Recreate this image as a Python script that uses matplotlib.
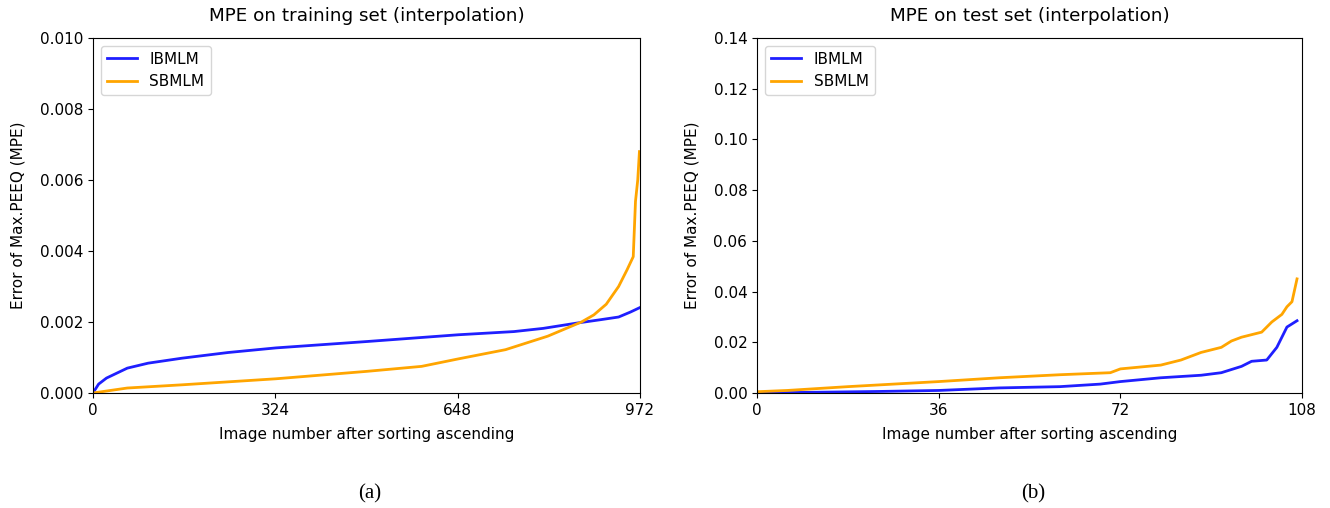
import matplotlib
matplotlib.use('Agg')
import matplotlib.pyplot as plt

# training set (interpolation)
train_x = [0, 10, 24, 61, 98, 158, 240, 325, 487, 649, 748, 800, 860, 900, 934, 955, 971]
train_ibmlm = [0.0, 0.00025, 0.00042, 0.0007, 0.00084, 0.00098, 0.00114, 0.00127,
               0.00145, 0.00164, 0.00173, 0.00182, 0.00197, 0.00206, 0.00214, 0.00228, 0.0024]
train_sx = [0, 61, 158, 325, 487, 584, 649, 733, 808, 868, 890, 912, 934, 949, 960, 964, 968, 971]
train_sbmlm = [0.0, 0.00014, 0.00023, 0.0004, 0.00061, 0.00075, 0.00096, 0.00122,
               0.0016, 0.002, 0.0022, 0.0025, 0.003, 0.00347, 0.00384, 0.0054, 0.006, 0.0068]

# test set (interpolation)
test_ix = [0, 12, 24, 36, 48, 60, 68, 72, 80, 88, 92, 96, 98, 101, 103, 105, 107]
test_ibmlm = [0.0, 0.0003, 0.0006, 0.001, 0.002, 0.0025, 0.0035, 0.0045, 0.006,
              0.007, 0.008, 0.0105, 0.0125, 0.013, 0.018, 0.026, 0.0285]
test_sx = [0, 6, 18, 36, 48, 60, 70, 72, 80, 84, 88, 92, 94, 96, 100, 102, 104, 105, 106, 107]
test_sbmlm = [0.0005, 0.001, 0.0025, 0.0045, 0.006, 0.0072, 0.008, 0.0095, 0.011,
              0.013, 0.016, 0.018, 0.0205, 0.022, 0.024, 0.028, 0.031, 0.034, 0.036, 0.045]

plt.rcParams['font.family'] = 'DejaVu Sans'
plt.rcParams['font.size'] = 11

fig = plt.figure(figsize=(13.3, 5.08), dpi=100)
ax1 = fig.add_axes([0.0699, 0.2264, 0.4113, 0.6988])
ax2 = fig.add_axes([0.5692, 0.2264, 0.4098, 0.6988])

ax1.plot(train_x, train_ibmlm, color='#1f1fff', lw=2, label='IBMLM')
ax1.plot(train_sx, train_sbmlm, color='orange', lw=2, label='SBMLM')
ax1.set_xlim(0, 972)
ax1.set_ylim(0, 0.010)
ax1.set_xticks([0, 324, 648, 972])
ax1.set_yticks([0, 0.002, 0.004, 0.006, 0.008, 0.010])
ax1.set_yticklabels(['0.000', '0.002', '0.004', '0.006', '0.008', '0.010'])
ax1.set_title('MPE on training set (interpolation)', pad=12)
ax1.set_xlabel('Image number after sorting ascending', labelpad=7)
ax1.set_ylabel('Error of Max.PEEQ (MPE)', labelpad=10)
ax1.legend(loc='upper left')

ax2.plot(test_ix, test_ibmlm, color='#1f1fff', lw=2, label='IBMLM')
ax2.plot(test_sx, test_sbmlm, color='orange', lw=2, label='SBMLM')
ax2.set_xlim(0, 108)
ax2.set_ylim(0, 0.14)
ax2.set_xticks([0, 36, 72, 108])
ax2.set_yticks([0, 0.02, 0.04, 0.06, 0.08, 0.10, 0.12, 0.14])
ax2.set_yticklabels(['0.00', '0.02', '0.04', '0.06', '0.08', '0.10', '0.12', '0.14'])
ax2.set_title('MPE on test set (interpolation)', pad=12)
ax2.set_xlabel('Image number after sorting ascending', labelpad=7)
ax2.set_ylabel('Error of Max.PEEQ (MPE)', labelpad=10)
ax2.legend(loc='upper left')

fig.text(0.278, 0.028, '(a)', ha='center', va='center', family='Liberation Serif', fontsize=15)
fig.text(0.777, 0.028, '(b)', ha='center', va='center', family='Liberation Serif', fontsize=15)

fig.savefig('out.png', dpi=100)
